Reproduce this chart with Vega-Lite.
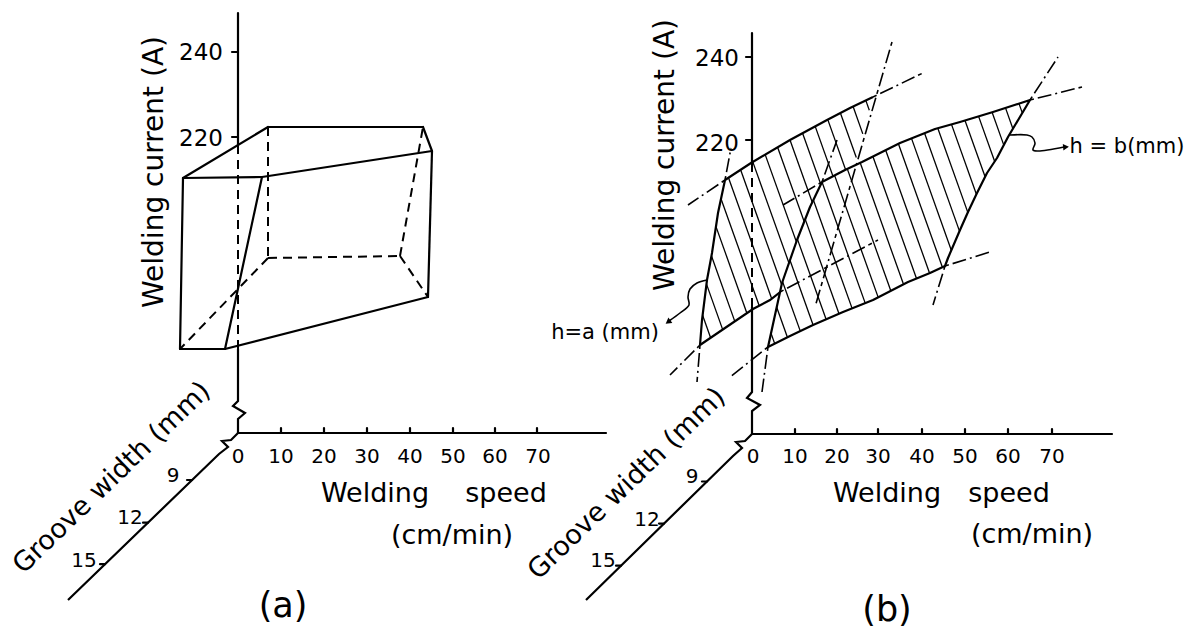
{
  "$schema": "https://vega.github.io/schema/vega-lite/v6.json",
  "width": 1190,
  "height": 630,
  "autosize": {"type": "fit", "contains": "padding"},
  "padding": 0,
  "background": "white",
  "config": {"view": {"stroke": null}},
  "datasets": {
    "hatchA": [
      {"x": 702.6, "y": 315.2, "x2": 710.6, "y2": 337.8},
      {"x": 706.5, "y": 284.1, "x2": 722.7, "y2": 329.6},
      {"x": 711.5, "y": 256.0, "x2": 734.8, "y2": 321.4},
      {"x": 716.0, "y": 226.6, "x2": 746.9, "y2": 313.2},
      {"x": 721.0, "y": 198.8, "x2": 759.2, "y2": 305.7},
      {"x": 728.5, "y": 177.7, "x2": 771.7, "y2": 298.7},
      {"x": 740.6, "y": 169.8, "x2": 783.5, "y2": 289.7},
      {"x": 752.8, "y": 161.9, "x2": 796.1, "y2": 283.0},
      {"x": 765.2, "y": 154.6, "x2": 808.7, "y2": 276.2},
      {"x": 777.6, "y": 147.3, "x2": 821.3, "y2": 269.5},
      {"x": 790.0, "y": 140.0, "x2": 830.1, "y2": 252.2},
      {"x": 802.6, "y": 133.2, "x2": 836.6, "y2": 228.6},
      {"x": 815.2, "y": 126.4, "x2": 843.2, "y2": 205.0},
      {"x": 827.8, "y": 119.6, "x2": 849.7, "y2": 181.2},
      {"x": 840.4, "y": 113.0, "x2": 856.3, "y2": 157.5},
      {"x": 853.1, "y": 106.5, "x2": 862.8, "y2": 133.9},
      {"x": 865.8, "y": 100.4, "x2": 869.3, "y2": 110.3}
    ],
    "hatchB": [
      {"x": 771.0, "y": 333.2, "x2": 774.7, "y2": 343.6},
      {"x": 776.7, "y": 307.2, "x2": 787.4, "y2": 337.3},
      {"x": 782.5, "y": 281.5, "x2": 800.3, "y2": 331.1},
      {"x": 790.0, "y": 260.2, "x2": 813.1, "y2": 325.0},
      {"x": 797.4, "y": 239.1, "x2": 826.1, "y2": 319.3},
      {"x": 805.2, "y": 219.1, "x2": 839.0, "y2": 313.7},
      {"x": 813.4, "y": 200.0, "x2": 852.1, "y2": 308.4},
      {"x": 822.0, "y": 182.0, "x2": 865.2, "y2": 303.1},
      {"x": 834.6, "y": 175.4, "x2": 878.2, "y2": 297.4},
      {"x": 847.3, "y": 168.9, "x2": 890.8, "y2": 290.8},
      {"x": 860.2, "y": 162.8, "x2": 903.5, "y2": 284.3},
      {"x": 872.9, "y": 156.5, "x2": 916.5, "y2": 278.5},
      {"x": 885.7, "y": 150.2, "x2": 929.6, "y2": 273.2},
      {"x": 898.4, "y": 143.8, "x2": 942.4, "y2": 267.2},
      {"x": 911.5, "y": 138.4, "x2": 951.3, "y2": 250.2},
      {"x": 924.6, "y": 133.2, "x2": 959.5, "y2": 231.1},
      {"x": 937.8, "y": 128.2, "x2": 967.8, "y2": 212.4},
      {"x": 951.5, "y": 124.4, "x2": 976.4, "y2": 194.3},
      {"x": 965.0, "y": 120.5, "x2": 985.1, "y2": 176.7},
      {"x": 978.6, "y": 116.4, "x2": 994.7, "y2": 161.5},
      {"x": 992.1, "y": 112.3, "x2": 1003.8, "y2": 145.1},
      {"x": 1005.5, "y": 107.9, "x2": 1012.9, "y2": 128.7},
      {"x": 1019.0, "y": 103.6, "x2": 1022.3, "y2": 112.9}
    ],
    "curvesA": [
      {"path": "upper", "i": 0, "x": 725, "y": 180},
      {"path": "upper", "i": 1, "x": 751, "y": 163},
      {"path": "upper", "i": 2, "x": 790, "y": 140},
      {"path": "upper", "i": 3, "x": 827, "y": 120},
      {"path": "upper", "i": 4, "x": 850, "y": 108},
      {"path": "upper", "i": 5, "x": 873, "y": 97},
      {"path": "left", "i": 0, "x": 725, "y": 180},
      {"path": "left", "i": 1, "x": 718, "y": 213},
      {"path": "left", "i": 2, "x": 712, "y": 253},
      {"path": "left", "i": 3, "x": 707, "y": 280},
      {"path": "left", "i": 4, "x": 702, "y": 320},
      {"path": "left", "i": 5, "x": 700, "y": 345},
      {"path": "lower", "i": 0, "x": 700, "y": 345},
      {"path": "lower", "i": 1, "x": 725, "y": 328},
      {"path": "lower", "i": 2, "x": 753, "y": 309},
      {"path": "lower", "i": 3, "x": 770, "y": 300},
      {"path": "lower", "i": 4, "x": 783, "y": 290},
      {"path": "lower", "i": 5, "x": 790, "y": 286}
    ],
    "regionB": [
      {"i": 0, "x": 822, "y": 182},
      {"i": 1, "x": 845, "y": 170},
      {"i": 2, "x": 862, "y": 162},
      {"i": 3, "x": 900, "y": 143},
      {"i": 4, "x": 935, "y": 129},
      {"i": 5, "x": 960, "y": 122},
      {"i": 6, "x": 993, "y": 112},
      {"i": 7, "x": 1030, "y": 100},
      {"i": 8, "x": 1008, "y": 137},
      {"i": 9, "x": 997, "y": 158},
      {"i": 10, "x": 987, "y": 173},
      {"i": 11, "x": 977, "y": 193},
      {"i": 12, "x": 968, "y": 212},
      {"i": 13, "x": 960, "y": 230},
      {"i": 14, "x": 948, "y": 258},
      {"i": 15, "x": 945, "y": 266},
      {"i": 16, "x": 930, "y": 273},
      {"i": 17, "x": 908, "y": 282},
      {"i": 18, "x": 873, "y": 300},
      {"i": 19, "x": 843, "y": 312},
      {"i": 20, "x": 813, "y": 325},
      {"i": 21, "x": 790, "y": 336},
      {"i": 22, "x": 768, "y": 347},
      {"i": 23, "x": 782, "y": 283},
      {"i": 24, "x": 797, "y": 240},
      {"i": 25, "x": 810, "y": 207},
      {"i": 26, "x": 822, "y": 182}
    ],
    "axesBroken": [
      {"path": "a-vert", "i": 0, "x": 238, "y": 349},
      {"path": "a-vert", "i": 1, "x": 238, "y": 401},
      {"path": "a-vert", "i": 2, "x": 233, "y": 406},
      {"path": "a-vert", "i": 3, "x": 245, "y": 413},
      {"path": "a-vert", "i": 4, "x": 238, "y": 419},
      {"path": "a-vert", "i": 5, "x": 238, "y": 433},
      {"path": "a-groove", "i": 0, "x": 238, "y": 433},
      {"path": "a-groove", "i": 1, "x": 231, "y": 440},
      {"path": "a-groove", "i": 2, "x": 222, "y": 441},
      {"path": "a-groove", "i": 3, "x": 228, "y": 447},
      {"path": "a-groove", "i": 4, "x": 219, "y": 454},
      {"path": "a-groove", "i": 5, "x": 68, "y": 600},
      {"path": "b-vert", "i": 0, "x": 752, "y": 307},
      {"path": "b-vert", "i": 1, "x": 752, "y": 392},
      {"path": "b-vert", "i": 2, "x": 747, "y": 398},
      {"path": "b-vert", "i": 3, "x": 760, "y": 405},
      {"path": "b-vert", "i": 4, "x": 752, "y": 411},
      {"path": "b-vert", "i": 5, "x": 752, "y": 434},
      {"path": "b-groove", "i": 0, "x": 752, "y": 434},
      {"path": "b-groove", "i": 1, "x": 745, "y": 441},
      {"path": "b-groove", "i": 2, "x": 736, "y": 442},
      {"path": "b-groove", "i": 3, "x": 742, "y": 448},
      {"path": "b-groove", "i": 4, "x": 733, "y": 456},
      {"path": "b-groove", "i": 5, "x": 586, "y": 600}
    ],
    "arrows": [
      {"path": "ha", "i": 0, "x": 707, "y": 280},
      {"path": "ha", "i": 1, "x": 697, "y": 283},
      {"path": "ha", "i": 2, "x": 690, "y": 289},
      {"path": "ha", "i": 3, "x": 688, "y": 297},
      {"path": "ha", "i": 4, "x": 689, "y": 305},
      {"path": "ha", "i": 5, "x": 680, "y": 313},
      {"path": "ha", "i": 6, "x": 669, "y": 321},
      {"path": "hb", "i": 0, "x": 1010, "y": 135},
      {"path": "hb", "i": 1, "x": 1027, "y": 135},
      {"path": "hb", "i": 2, "x": 1032, "y": 137},
      {"path": "hb", "i": 3, "x": 1035, "y": 143},
      {"path": "hb", "i": 4, "x": 1033, "y": 150},
      {"path": "hb", "i": 5, "x": 1038, "y": 151},
      {"path": "hb", "i": 6, "x": 1064, "y": 147}
    ],
    "heads": [
      {"x": 668, "y": 322, "angle": 234},
      {"x": 1066, "y": 147, "angle": 85}
    ],
    "solid": [
      {"x": 183, "y": 178, "x2": 268, "y2": 127},
      {"x": 268, "y": 127, "x2": 423, "y2": 127},
      {"x": 423, "y": 127, "x2": 432, "y2": 151},
      {"x": 183, "y": 178, "x2": 262, "y2": 177},
      {"x": 262, "y": 177, "x2": 432, "y2": 151},
      {"x": 183, "y": 178, "x2": 180, "y2": 349},
      {"x": 180, "y": 349, "x2": 225, "y2": 349},
      {"x": 262, "y": 177, "x2": 225, "y2": 349},
      {"x": 225, "y": 349, "x2": 428, "y2": 297},
      {"x": 432, "y": 151, "x2": 428, "y2": 297},
      {"x": 238, "y": 13, "x2": 238, "y2": 145},
      {"x": 238, "y": 433, "x2": 606, "y2": 433},
      {"x": 232, "y": 52, "x2": 238, "y2": 52},
      {"x": 232, "y": 137, "x2": 238, "y2": 137},
      {"x": 281, "y": 428, "x2": 281, "y2": 433},
      {"x": 324, "y": 428, "x2": 324, "y2": 433},
      {"x": 367, "y": 428, "x2": 367, "y2": 433},
      {"x": 410, "y": 428, "x2": 410, "y2": 433},
      {"x": 453, "y": 428, "x2": 453, "y2": 433},
      {"x": 495, "y": 428, "x2": 495, "y2": 433},
      {"x": 537, "y": 428, "x2": 537, "y2": 433},
      {"x": 192, "y": 480, "x2": 187, "y2": 480},
      {"x": 148, "y": 522.7, "x2": 143, "y2": 522.7},
      {"x": 105, "y": 564.2, "x2": 100, "y2": 564.2},
      {"x": 752, "y": 33, "x2": 752, "y2": 163},
      {"x": 752, "y": 434, "x2": 1112, "y2": 434},
      {"x": 746, "y": 57, "x2": 752, "y2": 57},
      {"x": 746, "y": 140, "x2": 752, "y2": 140},
      {"x": 795, "y": 429, "x2": 795, "y2": 434},
      {"x": 837, "y": 429, "x2": 837, "y2": 434},
      {"x": 878, "y": 429, "x2": 878, "y2": 434},
      {"x": 922, "y": 429, "x2": 922, "y2": 434},
      {"x": 965, "y": 429, "x2": 965, "y2": 434},
      {"x": 1008, "y": 429, "x2": 1008, "y2": 434},
      {"x": 1052, "y": 429, "x2": 1052, "y2": 434},
      {"x": 707, "y": 481.5, "x2": 702, "y2": 481.5},
      {"x": 664, "y": 523.6, "x2": 659, "y2": 523.6},
      {"x": 621, "y": 565.7, "x2": 616, "y2": 565.7}
    ],
    "dashed": [
      {"x": 268, "y": 127, "x2": 268, "y2": 258},
      {"x": 268, "y": 258, "x2": 400, "y2": 256},
      {"x": 400, "y": 256, "x2": 423, "y2": 127},
      {"x": 400, "y": 256, "x2": 428, "y2": 297},
      {"x": 268, "y": 258, "x2": 180, "y2": 349},
      {"x": 238, "y": 145, "x2": 238, "y2": 349},
      {"x": 752, "y": 163, "x2": 752, "y2": 307}
    ],
    "dashdot": [
      {"x": 725, "y": 180, "x2": 688, "y2": 205},
      {"x": 725, "y": 180, "x2": 731, "y2": 148},
      {"x": 873, "y": 97, "x2": 925, "y2": 72},
      {"x": 892, "y": 42, "x2": 815, "y2": 307},
      {"x": 700, "y": 345, "x2": 670, "y2": 375},
      {"x": 700, "y": 345, "x2": 697, "y2": 382},
      {"x": 780, "y": 292, "x2": 878, "y2": 240},
      {"x": 822, "y": 182, "x2": 783, "y2": 205},
      {"x": 822, "y": 182, "x2": 837, "y2": 140},
      {"x": 1030, "y": 100, "x2": 1082, "y2": 87},
      {"x": 1030, "y": 100, "x2": 1058, "y2": 57},
      {"x": 945, "y": 266, "x2": 933, "y2": 305},
      {"x": 945, "y": 266, "x2": 990, "y2": 252},
      {"x": 768, "y": 347, "x2": 762, "y2": 392},
      {"x": 768, "y": 347, "x2": 730, "y2": 377}
    ],
    "labels": [
      {"text": "Welding current (A)", "x": 155, "y": 172, "size": 28, "angle": 270},
      {"text": "240", "x": 201, "y": 53, "size": 23, "angle": 0},
      {"text": "220", "x": 201, "y": 139, "size": 23, "angle": 0},
      {"text": "0", "x": 238, "y": 457, "size": 20, "angle": 0},
      {"text": "10", "x": 281, "y": 457, "size": 20, "angle": 0},
      {"text": "20", "x": 324, "y": 457, "size": 20, "angle": 0},
      {"text": "30", "x": 367, "y": 457, "size": 20, "angle": 0},
      {"text": "40", "x": 410, "y": 457, "size": 20, "angle": 0},
      {"text": "50", "x": 453, "y": 457, "size": 20, "angle": 0},
      {"text": "60", "x": 495, "y": 457, "size": 20, "angle": 0},
      {"text": "70", "x": 538, "y": 457, "size": 20, "angle": 0},
      {"text": "Welding", "x": 375, "y": 494, "size": 27, "angle": 0},
      {"text": "speed", "x": 506, "y": 494, "size": 27, "angle": 0},
      {"text": "(cm/min)", "x": 452, "y": 536, "size": 27, "angle": 0},
      {"text": "(a)", "x": 283, "y": 606, "size": 35, "angle": 0},
      {"text": "Groove width (mm)", "x": 112, "y": 478, "size": 27, "angle": 316},
      {"text": "9", "x": 173, "y": 476, "size": 20, "angle": 0},
      {"text": "12", "x": 130, "y": 518, "size": 20, "angle": 0},
      {"text": "15", "x": 84, "y": 561, "size": 20, "angle": 0},
      {"text": "Welding current (A)", "x": 666, "y": 155, "size": 28, "angle": 270},
      {"text": "240", "x": 717, "y": 59, "size": 23, "angle": 0},
      {"text": "220", "x": 717, "y": 144, "size": 23, "angle": 0},
      {"text": "0", "x": 753, "y": 457, "size": 20, "angle": 0},
      {"text": "10", "x": 795, "y": 457, "size": 20, "angle": 0},
      {"text": "20", "x": 837, "y": 457, "size": 20, "angle": 0},
      {"text": "30", "x": 878, "y": 457, "size": 20, "angle": 0},
      {"text": "40", "x": 922, "y": 457, "size": 20, "angle": 0},
      {"text": "50", "x": 965, "y": 457, "size": 20, "angle": 0},
      {"text": "60", "x": 1008, "y": 457, "size": 20, "angle": 0},
      {"text": "70", "x": 1052, "y": 457, "size": 20, "angle": 0},
      {"text": "Welding", "x": 887, "y": 494, "size": 27, "angle": 0},
      {"text": "speed", "x": 1009, "y": 494, "size": 27, "angle": 0},
      {"text": "(cm/min)", "x": 1032, "y": 535, "size": 27, "angle": 0},
      {"text": "(b)", "x": 887, "y": 610, "size": 35, "angle": 0},
      {"text": "Groove width (mm)", "x": 627, "y": 484, "size": 27, "angle": 316},
      {"text": "9", "x": 692, "y": 477, "size": 20, "angle": 0},
      {"text": "12", "x": 647, "y": 520, "size": 20, "angle": 0},
      {"text": "15", "x": 603, "y": 561, "size": 20, "angle": 0},
      {"text": "h=a (mm)", "x": 605, "y": 333, "size": 21, "angle": 0},
      {"text": "h = b(mm)", "x": 1127, "y": 147, "size": 21, "angle": 0}
    ]
  },
  "encoding": {
    "x": {"field": "x", "type": "quantitative", "axis": null,
          "scale": {"domain": [0, 1190], "nice": false, "zero": false}},
    "y": {"field": "y", "type": "quantitative", "axis": null,
          "scale": {"domain": [0, 630], "reverse": true, "nice": false, "zero": false}}
  },
  "layer": [
    {
      "data": {"name": "hatchA"},
      "mark": {"type": "rule", "stroke": "#000", "strokeWidth": 1.3},
      "encoding": {"x2": {"field": "x2"}, "y2": {"field": "y2"}}
    },
    {
      "data": {"name": "curvesA"},
      "mark": {"type": "line", "stroke": "#000", "strokeWidth": 2.2, "interpolate": "linear"},
      "encoding": {
        "detail": {"field": "path"},
        "order": {"field": "i", "type": "quantitative"}
      }
    },
    {
      "data": {"name": "regionB"},
      "mark": {"type": "line", "fill": "white", "stroke": "white", "strokeWidth": 0.5, "interpolate": "linear"},
      "encoding": {"order": {"field": "i", "type": "quantitative"}}
    },
    {
      "data": {"name": "hatchB"},
      "mark": {"type": "rule", "stroke": "#000", "strokeWidth": 1.3},
      "encoding": {"x2": {"field": "x2"}, "y2": {"field": "y2"}}
    },
    {
      "data": {"name": "regionB"},
      "mark": {"type": "line", "stroke": "#000", "strokeWidth": 2.2, "interpolate": "linear", "strokeJoin": "round"},
      "encoding": {"order": {"field": "i", "type": "quantitative"}}
    },
    {
      "data": {"name": "axesBroken"},
      "mark": {"type": "line", "stroke": "#000", "strokeWidth": 2.2, "interpolate": "linear"},
      "encoding": {
        "detail": {"field": "path"},
        "order": {"field": "i", "type": "quantitative"}
      }
    },
    {
      "data": {"name": "arrows"},
      "mark": {"type": "line", "stroke": "#000", "strokeWidth": 1.6, "interpolate": "catmull-rom"},
      "encoding": {
        "detail": {"field": "path"},
        "order": {"field": "i", "type": "quantitative"}
      }
    },
    {
      "data": {"name": "solid"},
      "mark": {"type": "rule", "stroke": "#000", "strokeWidth": 2.2, "strokeCap": "round"},
      "encoding": {"x2": {"field": "x2"}, "y2": {"field": "y2"}}
    },
    {
      "data": {"name": "dashed"},
      "mark": {"type": "rule", "stroke": "#000", "strokeWidth": 2, "strokeDash": [9, 6]},
      "encoding": {"x2": {"field": "x2"}, "y2": {"field": "y2"}}
    },
    {
      "data": {"name": "dashdot"},
      "mark": {"type": "rule", "stroke": "#000", "strokeWidth": 1.6, "strokeDash": [4, 4, 14, 4, 2, 4, 14, 4]},
      "encoding": {"x2": {"field": "x2"}, "y2": {"field": "y2"}}
    },
    {
      "data": {"name": "heads"},
      "mark": {"type": "point", "shape": "triangle-up", "filled": true, "color": "#000", "opacity": 1, "size": 45},
      "encoding": {"angle": {"field": "angle", "type": "quantitative", "scale": null}}
    },
    {
      "data": {"name": "labels"},
      "mark": {"type": "text", "font": "DejaVu Sans", "color": "#000", "align": "center", "baseline": "middle"},
      "encoding": {
        "text": {"field": "text"},
        "size": {"field": "size", "type": "quantitative", "scale": null},
        "angle": {"field": "angle", "type": "quantitative", "scale": null}
      }
    }
  ]
}
